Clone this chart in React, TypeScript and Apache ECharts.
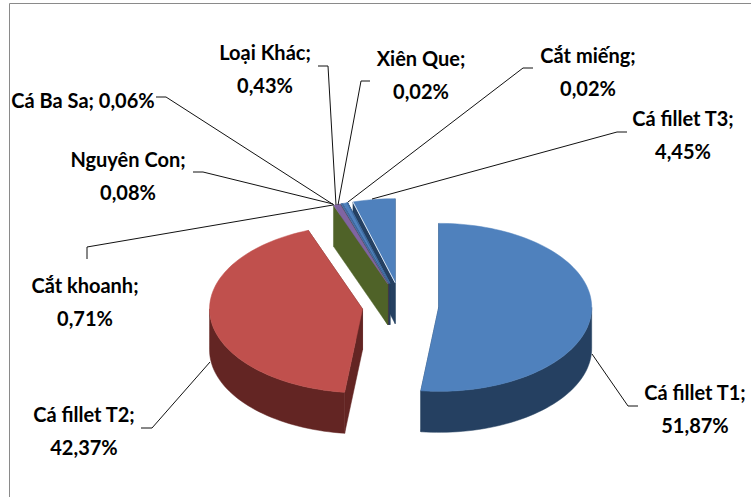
import React, { useEffect, useRef } from "react";
import * as echarts from "echarts";

const categories = [
  "Cá fillet T1",
  "Cá fillet T2",
  "Cắt khoanh",
  "Nguyên Con",
  "Cá Ba Sa",
  "Loại Khác",
  "Xiên Que",
  "Cắt miếng",
  "Cá fillet T3",
];
const shares = [51.87, 42.37, 0.71, 0.08, 0.06, 0.43, 0.02, 0.02, 4.45];
const faceColors = ["#4f81bd", "#c0504d", "#8064a2", "#4f81bd", "#4f81bd", "#4f81bd", "#4f81bd", "#4f81bd", "#4f81bd"];
const wallColors = ["#254061", "#632523", "#4f6228", "#403152", "#254061", "#254061", "#254061", "#254061", "#254061"];

// Projected pie geometry, in pixels.
const CX = 400.5;
const CY = 306;
const RX = 153;
const RY = 84;
const DEPTH = 41;
const EXPLODE_X = 0.25;
const EXPLODE_Y = 0.28;

// Label anchors and leader-line elbows, drawn over the pie.
const labelPlaces: [number, number][] = [
  [695, 408],
  [84, 430],
  [85, 301],
  [128, 175],
  [83, 100],
  [265, 68],
  [421, 74],
  [588, 71],
  [683, 134],
];
const leaders: [number, number][][] = [
  [[638, 406], [628, 406], [592, 354]],
  [[141, 428], [152, 428], [210, 362]],
  [[87, 259], [87, 247], [333, 205]],
  [[193, 172], [203, 172], [333, 204]],
  [[156, 97], [166, 97], [334, 205]],
  [[318, 66], [328, 66], [336, 205]],
  [[370, 81], [361, 81], [338, 205]],
  [[533, 68], [523, 68], [348, 202]],
  [[627, 132], [617, 132], [372, 199]],
];

const total = shares.reduce((a, b) => a + b, 0);
const point = (cx: number, cy: number, deg: number, dz = 0): [number, number] => {
  const t = (deg * Math.PI) / 180;
  return [cx + RX * Math.sin(t), cy - RY * Math.cos(t) + dz];
};
const arc = (cx: number, cy: number, a: number, b: number, dz = 0) => {
  const steps = Math.max(2, Math.ceil(Math.abs(b - a) / 2));
  const pts: [number, number][] = [];
  for (let i = 0; i <= steps; i++) pts.push(point(cx, cy, a + ((b - a) * i) / steps, dz));
  return pts;
};
const poly = (points: [number, number][], fill: string, z2: number) => ({
  type: "polygon",
  z2,
  shape: { points },
  style: { fill, stroke: fill, lineWidth: 0.5 },
});

// One exploded 3D wedge: radial walls and the rim first, then the top face.
const renderWedge = (params: any, api: any) => {
  const i = params.dataIndex;
  const value = api.value(0);
  let before = 0;
  for (let k = 0; k < i; k++) before += shares[k];
  const a = (before / total) * 360;
  const b = ((before + value) / total) * 360;
  const mid = ((a + b) / 2) * (Math.PI / 180);
  const cx = CX + EXPLODE_X * RX * Math.sin(mid);
  const cy = CY - EXPLODE_Y * RY * Math.cos(mid);
  const order = (categories.length - i) * 10;
  const wall = wallColors[i];
  const children: any[] = [];
  const radial = (deg: number, z: number) => {
    const rim = point(cx, cy, deg);
    children.push(poly([[cx, cy], rim, [rim[0], rim[1] + DEPTH], [cx, cy + DEPTH]], wall, z));
  };
  radial(b, order);
  radial(a, order + 1);
  const from = Math.max(a, 90);
  const to = Math.min(b, 270);
  if (to > from) {
    const top = arc(cx, cy, from, to);
    const bottom = arc(cx, cy, to, from, DEPTH);
    children.push(poly([...top, ...bottom], wall, order + 2));
  }
  children.push(poly([[cx, cy], ...arc(cx, cy, a, b)], faceColors[i], order + 3));
  // The last wedge carries a pale highlight along its leading edge.
  if (i === categories.length - 1) {
    children.push({
      type: "line",
      z2: order + 4,
      shape: { x1: cx, y1: cy, x2: point(cx, cy, a)[0], y2: point(cx, cy, a)[1] },
      style: { stroke: "#dce6f2", lineWidth: 1 },
    });
  }
  return { type: "group", children };
};

const percentText = (v: number) => v.toFixed(2).replace(".", ",") + "%";

export default function App() {
  const ref = useRef<HTMLDivElement>(null);
  useEffect(() => {
    document.body.style.margin = "0";
    const chart = echarts.init(ref.current!, undefined, { renderer: "svg" });
    const labels = categories.map((name, i) => ({
      type: "text",
      x: labelPlaces[i][0],
      y: labelPlaces[i][1],
      z: 20,
      style: {
        text: name === "Cá Ba Sa" ? `${name}; ${percentText(shares[i])}` : `${name};\n${percentText(shares[i])}`,
        font: 'bold 20px Lato, "Noto Sans", sans-serif',
        lineHeight: 33,
        fill: "#000",
        align: "center",
        verticalAlign: "middle",
      },
    }));
    const lines = leaders.map((pts) => ({
      type: "polyline",
      z: 10,
      shape: { points: pts },
      style: { stroke: "#111", lineWidth: 1, fill: "none" },
    }));
    chart.setOption({
      animation: false,
      backgroundColor: "#fff",
      graphic: [
        {
          type: "rect",
          z: 0,
          shape: { x: 9.5, y: 3.5, width: 760, height: 520 },
          style: { fill: "none", stroke: "#8a8a8a", lineWidth: 1 },
        },
        ...lines,
        ...labels,
      ],
      series: [
        {
          type: "custom",
          coordinateSystem: "none",
          silent: true,
          z: 5,
          renderItem: renderWedge,
          data: shares.map((v, i) => ({ name: categories[i], value: [v] })),
        },
      ],
    });
    return () => chart.dispose();
  }, []);
  return <div ref={ref} style={{ width: 751, height: 497 }} />;
}
